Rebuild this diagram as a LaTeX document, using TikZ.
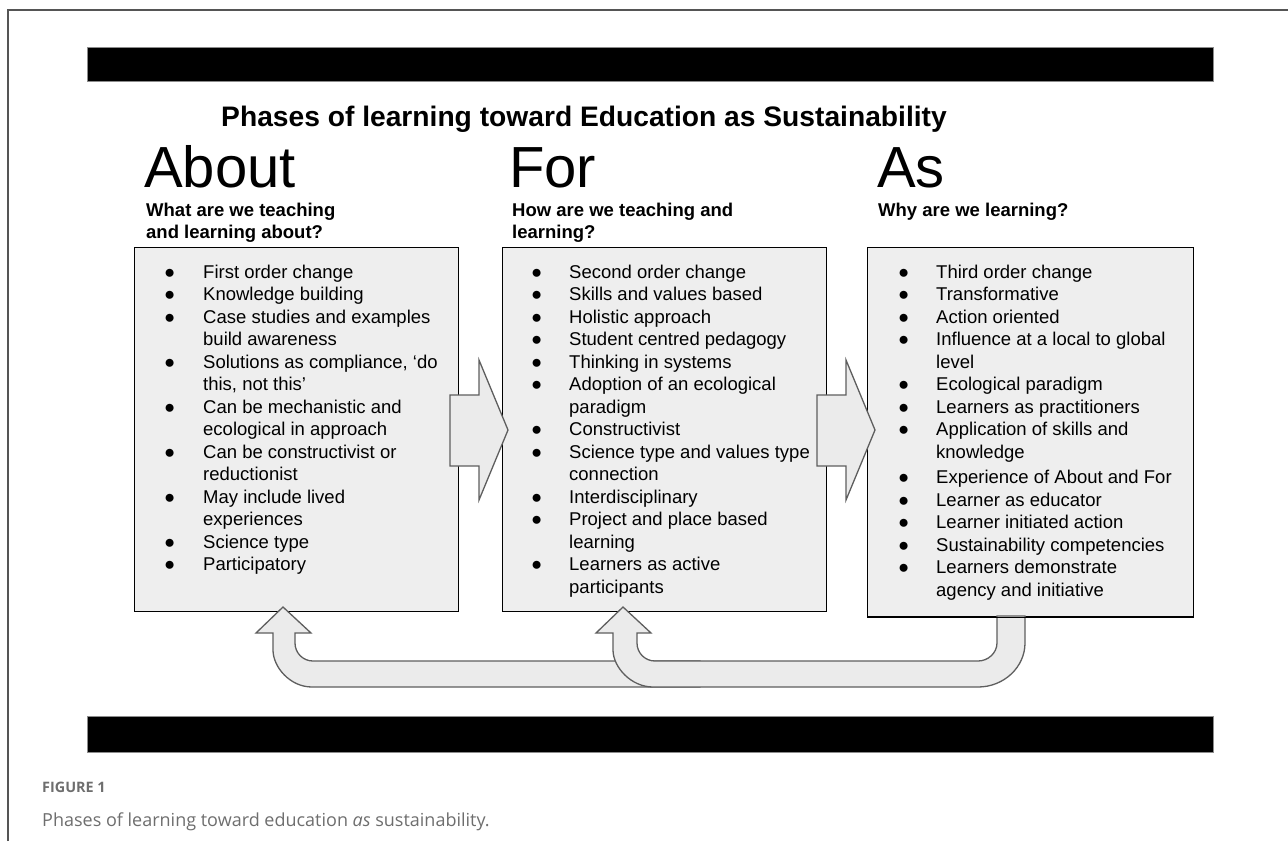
\documentclass[tikz,border=0pt]{standalone}
\usepackage{fontspec}
\setmainfont{Liberation Sans}
\newfontfamily\capfont{Open Sans}
\definecolor{boxfill}{HTML}{EEEEEE}
\definecolor{arrfill}{HTML}{EBEBEB}
\definecolor{arrline}{HTML}{5E5E5E}
\definecolor{framegray}{HTML}{555555}
\definecolor{capgray}{HTML}{6E6E6E}
\newcommand\listfont{\fontsize{18.5}{22.5}\selectfont}
\newcommand\blt{●}
\begin{document}
\begin{tikzpicture}[x=1pt,y=-1pt,
  box/.style={draw=black, line width=1.4pt, fill=boxfill, inner sep=0pt, anchor=north west},
  bigarrow/.style={draw=arrline, line width=1.3pt, fill=arrfill, line join=miter},
  bar/.style={fill=black, draw=black!45, line width=0.8pt, inner sep=0pt, anchor=north west, minimum width=1126pt},
  lbl/.style={inner sep=0pt, anchor=base west},
  head/.style={lbl, font=\fontsize{58}{58}\selectfont},
  sub/.style={lbl, font=\bfseries\fontsize{18.5}{22}\selectfont, align=left}]
\useasboundingbox (0,0) rectangle (1288,841);
% frame
\draw[framegray, line width=1.3pt] (8,841) -- (8,10) -- (1288,10);
% black bars
\node[bar, minimum height=34pt] (topbar) at (87,47) {};
\node[bar, minimum height=36pt] (botbar) at (87,716) {};
% title
\node[inner sep=0pt, anchor=base, font=\bfseries\fontsize{28.2}{28.2}\selectfont] (title) at (584,126) {Phases of learning toward Education as Sustainability};
% headings
\node[head] (habout) at (144,187) {About};
\node[head] (hfor) at (509,187) {For};
\node[head] (has) at (877,187) {As};
\node[sub] (sabout) at (146,238) {What are we teaching\\and learning about?};
\node[sub] (sfor) at (512,238) {How are we teaching and\\learning?};
\node[sub] (sas) at (878,216) {Why are we learning?};
% boxes
\node[box, minimum width=324pt, minimum height=364pt] (about) at (134,247) {};
\node[box, minimum width=324pt, minimum height=364pt] (for) at (502,247) {};
\node[box, minimum width=326pt, minimum height=369pt] (as) at (867,247) {};
% lists
\node[lbl] (labout) at (164,278) {\listfont\begin{tabular}[t]{@{}p{39pt}@{}l@{}}
\blt & First order change\\
\blt & Knowledge building\\
\blt & Case studies and examples\\
     & build awareness\\
\blt & Solutions as compliance, ‘do\\
     & this, not this’\\
\blt & Can be mechanistic and\\
     & ecological in approach\\
\blt & Can be constructivist or\\
     & reductionist\\
\blt & May include lived\\
     & experiences\\
\blt & Science type\\
\blt & Participatory
\end{tabular}};
\node[lbl] (lfor) at (531,278) {\listfont\begin{tabular}[t]{@{}p{38pt}@{}l@{}}
\blt & Second order change\\
\blt & Skills and values based\\
\blt & Holistic approach\\
\blt & Student centred pedagogy\\
\blt & Thinking in systems\\
\blt & Adoption of an ecological\\
     & paradigm\\
\blt & Constructivist\\
\blt & Science type and values type\\
     & connection\\
\blt & Interdisciplinary\\
\blt & Project and place based\\
     & learning\\
\blt & Learners as active\\
     & participants
\end{tabular}};
\node[lbl] (las) at (898,278) {\listfont\begin{tabular}[t]{@{}p{38pt}@{}l@{}}
\blt & Third order change\\
\blt & Transformative\\
\blt & Action oriented\\
\blt & Influence at a local to global\\
     & level\\
\blt & Ecological paradigm\\
\blt & Learners as practitioners\\
\blt & Application of skills and\\
     & knowledge\\[3pt]
\blt & Experience of About and For\\
\blt & Learner as educator\\
\blt & Learner initiated action\\
\blt & Sustainability competencies\\
\blt & Learners demonstrate\\
     & agency and initiative
\end{tabular}};
% right arrows
\draw[bigarrow] (450,395) -- (479,395) -- (479,360) -- (508,430) -- (479,500) -- (479,466) -- (450,466) -- cycle;
\draw[bigarrow] (817,395) -- (846,395) -- (846,360) -- (875,430) -- (846,500) -- (846,466) -- (817,466) -- cycle;
% feedback arrow to About
\draw[bigarrow] (283,607) -- (311,633) -- (295,633) -- (295,643)
  .. controls (295,653) and (303,661) .. (313,661) -- (700,661) -- (700,687) -- (312,687)
  .. controls (290,687) and (273,667) .. (273,650) -- (273,633) -- (256,633) -- cycle;
% feedback arrow to For
\draw[bigarrow] (623,607) -- (651,633) -- (637,633) -- (637,643)
  .. controls (637,653) and (645,661) .. (655,661) -- (978,661)
  .. controls (988,661) and (997,653) .. (997,643) -- (997,616) -- (1025,616) -- (1025,643)
  .. controls (1025,667) and (1004,687) .. (978,687) -- (653,687)
  .. controls (631,687) and (613,667) .. (613,650) -- (613,633) -- (596,633) -- cycle;
\draw[black, line width=1.4pt] (as.south west) -- (as.south east);
% caption
\node[lbl, font=\capfont\bfseries\fontsize{14.4}{14.4}\selectfont, text=capgray] (fig) at (42,792) {FIGURE 1};
\node[lbl, font=\capfont\fontsize{18}{18}\selectfont, text=capgray] (cap) at (42,826) {Phases of learning toward education \textit{as} sustainability.};
\end{tikzpicture}
\end{document}
